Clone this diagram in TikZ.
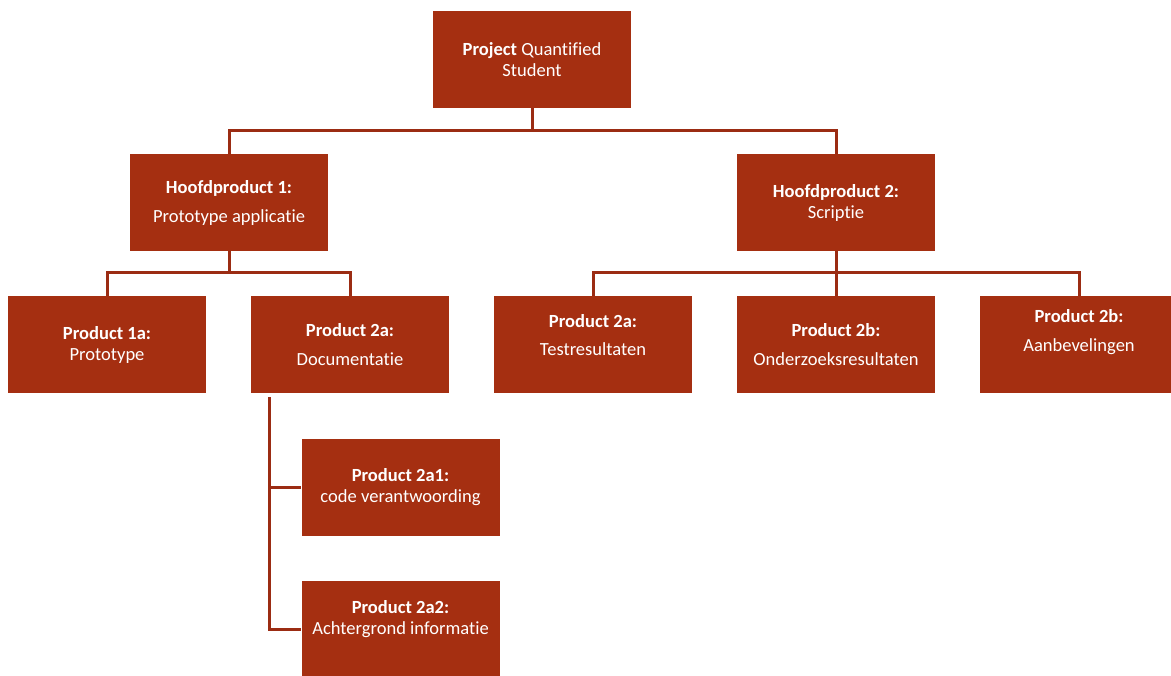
\documentclass[tikz,border=0pt]{standalone}
\usepackage{fontspec}
\setmainfont{Carlito}[Ligatures=NoCommon]
\usepackage{tikz}
\usetikzlibrary{positioning}
\definecolor{rust}{RGB}{165,47,17}
\definecolor{rustline}{RGB}{155,44,19}
\tikzstyle{box}=[fill=rust, text=white, align=center, inner sep=0pt, minimum width=148.5pt, minimum height=72.75pt, font=\fontsize{13.9}{15.75}\selectfont]
\tikzstyle{link}=[draw=rustline, line width=2.25pt]

\begin{document}
\begin{tikzpicture}[x=0.75pt, y=-0.75pt]
      \clip (0,0) rectangle (1171,675);

      \node [box] (project) at (532,59.5) {\textbf{Project} Quantified\\Student};

      \node [box] (hoofd1) at (229,202.5) {\textbf{Hoofdproduct 1:}\\[6pt]Prototype applicatie};
      \node [box] (hoofd2) at (836,202.5) {\textbf{Hoofdproduct 2:}\\Scriptie};

      \node [box] (prod1a) at (107,344.5) {\textbf{Product 1a:}\\Prototype};
      \node [box] (doc) at (350,344.5) {\textbf{Product 2a:}\\[6pt]Documentatie};
      \node [box] (test) at (593,344.5) {\textbf{Product 2a:}\\[5.25pt]Testresultaten\\[-1.5pt]{}};
      \node [box] (onderzoek) at (836,344.5) {\textbf{Product 2b:}\\[6pt]Onderzoeksresultaten};
      \node [box] (advies) at (1079,344.5) {\textbf{Product 2b:}\\[6pt]Aanbevelingen\\[5.25pt]{}};

      \node [box] (code) at (400.5,487.5) {\textbf{Product 2a1:}\\code verantwoording};
      \node [box] (achter) at (400.5,629.5) {\textbf{Product 2a2:}\\Achtergrond informatie\\[3pt]{}};

      \draw [link] (project.south) -- ++(0,22) -| (hoofd1.north);
      \draw [link] (project.south) -- ++(0,22) -| (hoofd2.north);

      \draw [link] (hoofd1.south) -- ++(0,21) -| (prod1a.north);
      \draw [link] (hoofd1.south) -- ++(0,21) -| (doc.north);

      \draw [link] (hoofd2.south) -- (onderzoek.north);
      \draw [link] (hoofd2.south) -- ++(0,21) -| (test.north);
      \draw [link] (hoofd2.south) -- ++(0,21) -| (advies.north);

      \draw [link] ([xshift=14.25pt,yshift=-3pt]doc.south west) |- (code.west);
      \draw [link] ([xshift=14.25pt,yshift=-3pt]doc.south west) |- (achter.west);
    \end{tikzpicture}
\end{document}
